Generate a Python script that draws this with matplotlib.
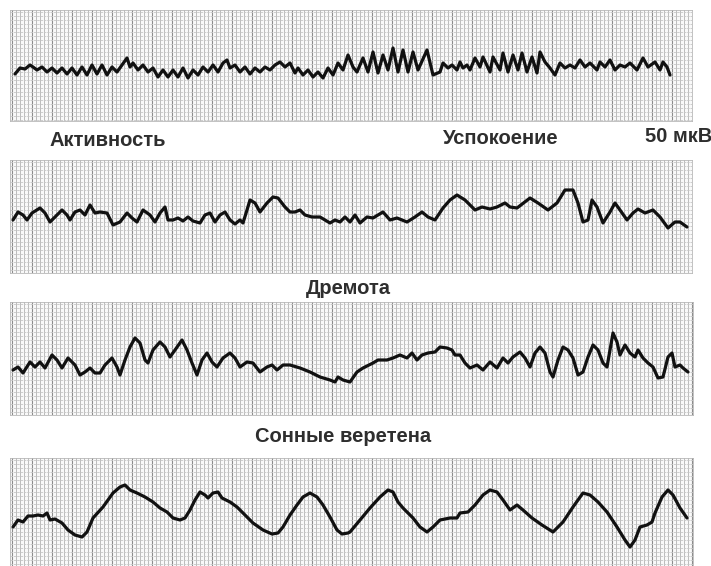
import numpy as np
import matplotlib
matplotlib.use("Agg")
import matplotlib.pyplot as plt

plt.rcParams['font.family'] = ['Liberation Sans', 'DejaVu Sans']

# ---- data: traces (time in px units, signal as vertical px position) ----
t1 = [15,20,25,30,33,37,42,47,52,57,62,67,72,77,82,87,92,97,102,107,112,117,122,127,130,133,138,143,148,153,
      158,163,168,173,178,183,188,193,198,203,208,213,218,223,227,230,235,240,245,250,255,260,265,270,275,280,
      285,290,295,298,303,308,313,318,323,328,333,338,343,348,353,357,363,368,373,378,383,388,393,398,403,408,
      413,418,427,433,440,443,448,452,457,460,463,467,470,475,480,483,490,493,500,503,508,513,518,522,527,532,
      537,540,545,550,555,560,565,570,575,580,585,590,597,600,605,610,615,620,625,630,637,643,648,655,660,663,
      667,670]
v1 = [74,68,69,65,67,70,67,72,68,73,68,74,68,75,67,75,65,74,65,75,67,72,65,58,67,63,70,65,72,68,
      77,70,77,70,77,68,78,70,75,67,72,65,72,63,60,68,65,72,67,74,68,72,67,70,65,62,
      67,63,73,68,75,70,77,72,78,68,75,63,70,55,67,72,58,72,52,73,55,70,48,72,50,72,
      52,70,50,75,72,63,68,65,70,62,68,65,70,58,67,57,72,57,70,53,72,55,70,53,72,57,
      73,52,62,68,75,63,68,65,68,60,67,63,70,62,67,60,70,65,67,63,70,58,67,62,70,62,
      67,75]

t2 = [13,18,23,27,32,40,45,50,57,62,67,70,75,80,85,90,95,100,107,113,120,127,132,137,143,150,155,160,165,168,
      173,178,183,188,193,200,205,210,215,220,225,230,235,240,243,247,250,255,260,267,273,278,285,290,295,300,
      305,312,320,325,330,335,340,345,350,355,360,367,373,378,383,390,397,407,415,422,428,435,443,450,457,465,
      475,482,490,497,505,510,517,530,538,548,557,565,573,578,583,588,592,597,603,610,615,620,627,633,638,645,
      653,660,668,675,680,687]
v2 = [220,212,215,220,213,208,213,222,215,210,215,220,212,210,215,205,213,212,213,225,222,213,218,222,210,215,222,213,207,220,
      220,218,221,217,221,223,215,213,222,215,212,220,224,220,223,210,200,203,212,203,197,198,207,212,212,210,
      215,217,217,220,223,220,222,217,222,215,223,217,218,215,212,220,218,222,217,212,217,220,208,200,195,200,
      210,207,209,207,203,207,208,198,203,210,203,190,190,203,222,220,200,207,223,212,203,210,220,213,209,213,
      210,217,228,222,222,227]

t3 = [13,18,23,30,35,40,45,52,57,62,68,75,80,85,90,95,100,105,112,117,120,125,130,135,140,145,148,153,160,165,
      170,175,182,187,192,197,202,207,212,217,223,230,235,240,247,253,260,267,272,277,283,290,300,310,320,330,
      335,338,343,350,357,363,373,378,387,393,400,407,412,417,422,428,435,440,447,452,455,460,465,470,477,483,
      490,497,503,508,513,520,525,530,535,540,545,550,553,558,563,568,573,578,583,588,593,598,603,607,610,613,
      617,620,625,630,635,638,643,648,653,658,663,668,672,675,680,683,688]
v3 = [370,367,373,362,367,362,368,355,360,368,358,365,375,372,368,373,373,365,358,367,375,360,347,338,343,360,363,350,342,347,
      357,350,340,350,363,375,360,353,362,367,358,353,358,367,362,363,372,367,365,370,365,365,368,372,377,380,
      382,377,380,382,372,368,363,360,360,358,355,358,353,360,355,353,352,347,348,350,355,355,363,368,365,370,
      362,368,358,363,357,352,358,367,353,347,353,372,377,360,347,350,358,375,372,357,345,350,363,367,350,333,
      342,355,345,353,357,350,358,363,367,378,377,357,353,367,365,368,372]

t4 = [13,18,23,28,33,38,43,47,50,55,62,68,75,82,87,93,103,113,120,125,130,137,145,153,160,167,173,180,185,190,
      195,200,205,208,213,218,222,230,237,243,253,263,272,278,283,290,297,303,310,317,323,330,337,342,348,350,
      360,370,380,388,393,398,403,413,420,427,433,440,450,457,460,468,475,483,490,497,503,510,517,523,532,542,
      553,563,573,583,590,598,607,617,625,630,635,640,647,652,655,662,668,673,680,687]
v4 = [527,520,522,516,516,515,516,513,520,519,523,530,535,537,532,518,507,493,487,485,490,493,497,502,508,512,518,520,518,510,
      500,492,495,498,493,492,498,502,507,513,523,530,534,533,527,515,505,497,493,497,505,517,530,534,533,532,
      520,508,497,490,492,502,508,518,527,532,527,520,518,518,513,512,505,495,490,492,500,510,505,510,518,525,
      532,522,507,493,495,502,512,527,540,547,540,527,525,522,513,497,490,495,508,518]

# labels
label_row1 = ["Активность", "Успокоение", "50 мкВ"]
label_row2 = "Дремота"
label_row3 = "Сонные веретена"

W, H = 711, 566
fig = plt.figure(figsize=(W / 100, H / 100), dpi=100)
fig.patch.set_facecolor('white')

panels = [  # (x0, x1, y_top, y_bottom) in pixels
    (10, 692, 10, 121),
    (10, 692, 160, 273),
    (10, 693, 302, 415),
    (10, 693, 458, 566),
]
traces = [(t1, v1), (t2, v2), (t3, v3), (t4, v4)]

for (x0, x1, yt, yb), (t, v) in zip(panels, traces):
    ax = fig.add_axes([x0 / W, 1 - yb / H, (x1 - x0) / W, (yb - yt) / H])
    ax.set_xlim(x0, x1)
    ax.set_ylim(yb, yt)
    ax.set_facecolor('#f9f9f9')
    ax.set_xticks(np.arange(x0 + 2, x1, 20))
    ax.set_xticks(np.arange(x0 + 2, x1, 4), minor=True)
    ax.set_yticks(np.arange(yt + 2, yb, 20))
    ax.set_yticks(np.arange(yt + 2, yb, 4), minor=True)
    ax.grid(which='minor', axis='x', color='#b2b2b2', linewidth=0.6)
    ax.grid(which='minor', axis='y', color='#c6c6c6', linewidth=0.6, linestyle=(0, (3, 1)))
    ax.grid(which='major', axis='x', color='#8c8c8c', linewidth=0.8)
    ax.grid(which='major', axis='y', color='#c6c6c6', linewidth=0.6, linestyle=(0, (3, 1)))
    ax.tick_params(which='both', length=0, labelbottom=False, labelleft=False)
    for s in ax.spines.values():
        s.set_color('#b8b8b8')
        s.set_linewidth(0.6)
    ax.plot(t, v, color='#111111', linewidth=2.3, solid_joinstyle='round', solid_capstyle='round')

tk = dict(color='#2e2e2e', fontsize=14.5, fontweight='bold', va='center', zorder=10)
fig.text(50 / W, 1 - 140 / H, label_row1[0], ha='left', **tk)
fig.text(501 / W, 1 - 139 / H, label_row1[1], ha='center', **tk)
fig.text(712 / W, 1 - 137 / H, label_row1[2], ha='right', **tk)
fig.text(348 / W, 1 - 288 / H, label_row2, ha='center', **tk)
fig.text(343 / W, 1 - 436 / H, label_row3, ha='center', **tk)

fig.savefig('out.png', dpi=100, facecolor='white')
